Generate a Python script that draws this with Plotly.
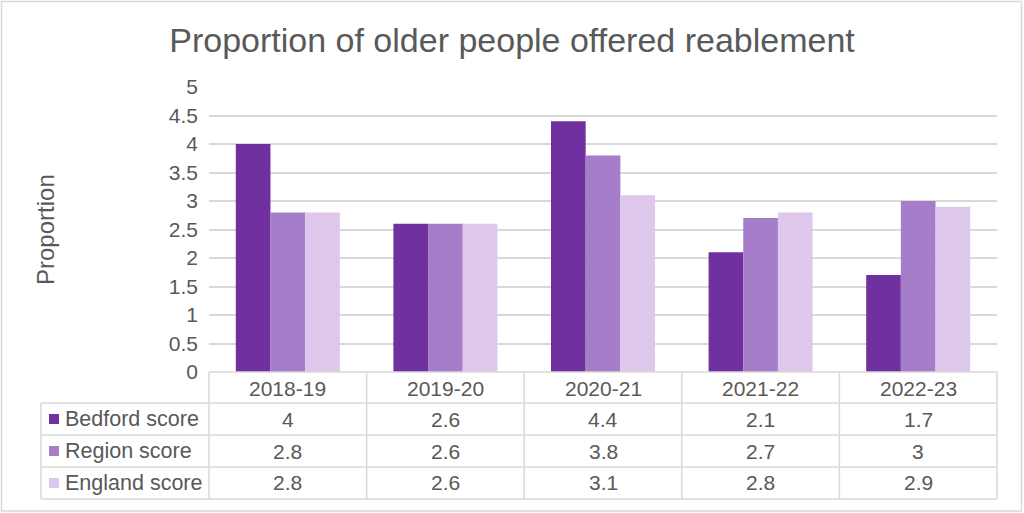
import plotly.graph_objects as go

categories = ["2018-19", "2019-20", "2020-21", "2021-22", "2022-23"]
series_names = ["Bedford score", "Region score", "England score"]
bedford = [4, 2.6, 4.4, 2.1, 1.7]
region = [2.8, 2.6, 3.8, 2.7, 3]
england = [2.8, 2.6, 3.1, 2.8, 2.9]
colors = ["#7030A0", "#A67DC8", "#DDC8EC"]
y_ticks = [0, 0.5, 1, 1.5, 2, 2.5, 3, 3.5, 4, 4.5, 5]

W, H = 1024, 513
L, R, T, B = 209, 997, 87, 372
pw, ph = R - L, B - T

def px(x):
    return (x - L) / pw

def py(y):
    return (B - y) / ph

TXT = "#595959"
GRID = "#D9D9D9"
FONT = "Liberation Sans, Arial, sans-serif"

fig = go.Figure()
xs = list(range(len(categories)))
for name, vals, c in zip(series_names, [bedford, region, england], colors):
    fig.add_trace(go.Bar(x=xs, y=vals, name=name, marker=dict(color=c, line=dict(width=0)),
                         showlegend=False))

shapes = []
annotations = []
row_lines = [403, 435, 467, 499]
shapes.append(dict(type="line", xref="paper", yref="paper", x0=0, x1=1, y0=py(372), y1=py(372),
                   line=dict(color=GRID, width=1.5)))
for yl in row_lines:
    shapes.append(dict(type="line", xref="paper", yref="paper", x0=px(41), x1=1, y0=py(yl), y1=py(yl),
                       line=dict(color=GRID, width=1.5)))
ncat = len(categories)
for k in range(ncat + 1):
    xv = k / ncat
    shapes.append(dict(type="line", xref="paper", yref="paper", x0=xv, x1=xv, y0=py(372), y1=py(499),
                       line=dict(color=GRID, width=1.5)))
shapes.append(dict(type="line", xref="paper", yref="paper", x0=px(41), x1=px(41), y0=py(403), y1=py(499),
                   line=dict(color=GRID, width=1.5)))
shapes.append(dict(type="rect", xref="paper", yref="paper", x0=px(1.5), x1=px(1021.5), y0=py(1.5), y1=py(511),
                   line=dict(color=GRID, width=1.5), fillcolor="rgba(0,0,0,0)"))

for i, c in enumerate(categories):
    annotations.append(dict(x=i, y=py(388), xref="x", yref="paper", text=c, showarrow=False,
                            font=dict(size=21, color=TXT, family=FONT), xanchor="center", yanchor="middle"))
for r, (name, vals, col) in enumerate(zip(series_names, [bedford, region, england], colors)):
    yc = row_lines[r] + 16
    shapes.append(dict(type="rect", xref="paper", yref="paper", x0=px(49), x1=px(59),
                       y0=py(yc - 5), y1=py(yc + 5), line=dict(width=0), fillcolor=col))
    annotations.append(dict(x=px(63), y=py(yc), xref="paper", yref="paper", text=name, showarrow=False,
                            font=dict(size=21.5, color=TXT, family=FONT), xanchor="left", yanchor="middle"))
    for i, v in enumerate(vals):
        annotations.append(dict(x=i, y=py(yc), xref="x", yref="paper", text=f"{v:g}", showarrow=False,
                                font=dict(size=21, color=TXT, family=FONT), xanchor="center", yanchor="middle"))

annotations.append(dict(x=px(45), y=py(230), xref="paper", yref="paper", text="Proportion", showarrow=False,
                        textangle=-90, font=dict(size=24, color=TXT, family=FONT),
                        xanchor="center", yanchor="middle"))

fig.update_layout(
    width=W, height=H,
    margin=dict(l=L, r=W - R, t=T, b=H - B),
    paper_bgcolor="white", plot_bgcolor="white",
    title=dict(text="Proportion of older people offered reablement", x=0.5, xanchor="center",
               y=1 - 40 / H, yanchor="middle", font=dict(size=34, color=TXT, family=FONT)),
    barmode="group", bargap=0.34, bargroupgap=0,
    xaxis=dict(range=[-0.5, ncat - 0.5], showticklabels=False, showgrid=False, zeroline=False,
               showline=False, ticks=""),
    yaxis=dict(range=[0, 5], tickvals=y_ticks, ticktext=[f"{v:g}" for v in y_ticks],
               showgrid=True, gridcolor=GRID, gridwidth=1.5, zeroline=False, showline=False,
               tickfont=dict(size=21, color=TXT, family=FONT), ticks="", ticklabelstandoff=10),
    shapes=shapes, annotations=annotations,
)

fig.write_html("out.html")
